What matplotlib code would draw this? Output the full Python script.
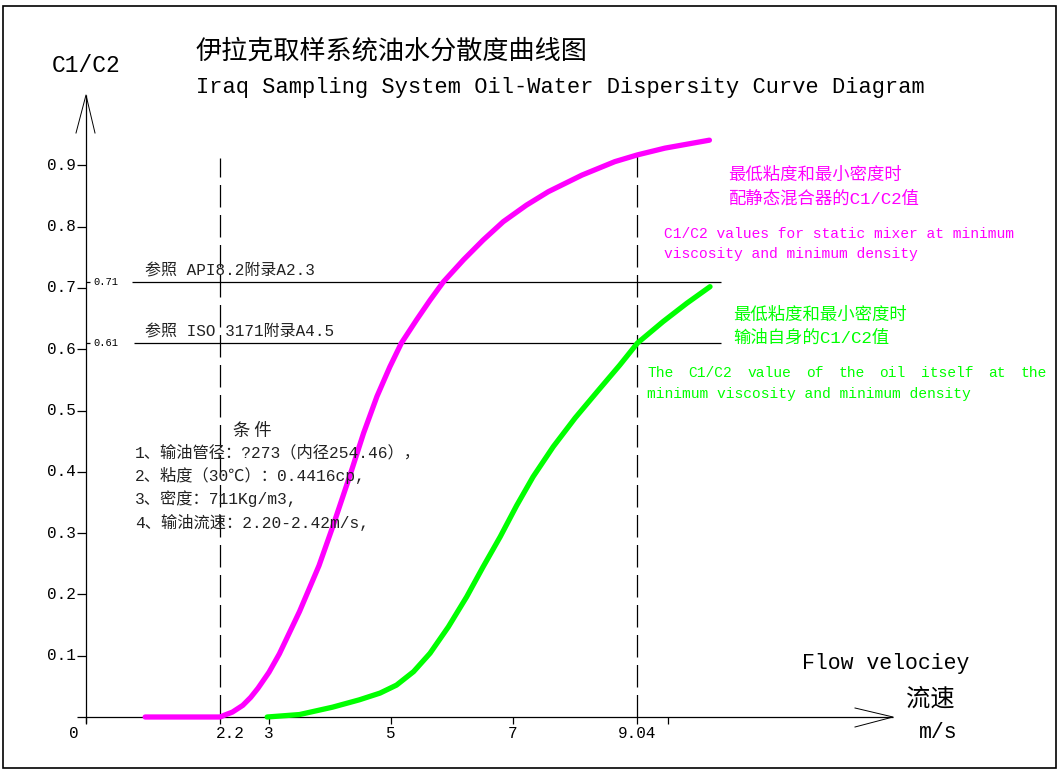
import matplotlib
matplotlib.use("Agg")
import matplotlib.pyplot as plt
from matplotlib.patches import Rectangle

# ---------------- data ----------------
mix_x = [0.97, 2.2, 2.27, 2.4, 2.57, 2.7, 2.82, 3.0, 3.17, 3.5, 3.82, 4.04, 4.33, 4.55, 4.77,
         4.98, 5.17, 5.42, 5.64, 5.86, 6.19, 6.51, 6.84, 7.22, 7.58, 8.13, 8.67, 9.04, 9.49,
         10.22]
mix_y = [0.0, 0.0, 0.003, 0.008, 0.019, 0.032, 0.047, 0.073, 0.103, 0.172, 0.247, 0.309, 0.395,
         0.463, 0.523, 0.571, 0.610, 0.648, 0.680, 0.710, 0.746, 0.778, 0.808, 0.835, 0.857,
         0.884, 0.906, 0.917, 0.928, 0.941]

oil_x = [2.97, 3.5, 4.04, 4.48, 4.82, 5.09, 5.37, 5.64, 5.94, 6.24, 6.51, 6.79, 7.06, 7.33,
         7.66, 8.02, 8.40, 8.75, 9.04, 9.46, 9.85, 10.23]
oil_y = [0.0, 0.004, 0.016, 0.028, 0.039, 0.052, 0.074, 0.104, 0.147, 0.196, 0.245, 0.294,
         0.345, 0.392, 0.441, 0.488, 0.533, 0.574, 0.610, 0.645, 0.675, 0.702]

y_ticks = [0.1, 0.2, 0.3, 0.4, 0.5, 0.6, 0.7, 0.8, 0.9]
y_tick_labels = ["0.1", "0.2", "0.3", "0.4", "0.5", "0.6", "0.7", "0.8", "0.9"]
x_ticks = [0, 2.2, 3, 5, 7, 9.04, 9.54]
x_tick_labels = ["0", "2.2", "3", "5", "7", "9.04", ""]
ref_levels = [0.71, 0.61]
ref_labels = ["0.71", "0.61"]
ref_texts = ["参照 API8.2附录A2.3", "参照 ISO 3171附录A4.5"]
v_lines = [2.2, 9.04]

title_cn = "伊拉克取样系统油水分散度曲线图"
title_en = "Iraq Sampling System Oil-Water Dispersity Curve Diagram"
cond_title = "条 件"
cond_lines = ["1、输油管径：?273（内径254.46），",
              "2、粘度（30℃）：0.4416cp,",
              "3、密度：711Kg/m3,",
              "4、输油流速：2.20-2.42m/s,"]
mix_note_cn = ["最低粘度和最小密度时", "配静态混合器的C1/C2值"]
mix_note_en = ["C1/C2 values for static mixer at minimum", "viscosity and minimum density"]
oil_note_cn = ["最低粘度和最小密度时", "输油自身的C1/C2值"]
oil_note_en1 = ["The", "C1/C2", "value", "of", "the", "oil", "itself", "at", "the"]
oil_note_en2 = "minimum viscosity and minimum density"

MAG = "#ff00ff"
GRN = "#00ff00"
MONO = ["Liberation Mono", "Noto Sans CJK SC"]
CJK = ["Noto Sans CJK SC", "Liberation Mono"]

W, H = 1063, 773
X0, SX = 86, 61.0     # pixel of x=0, pixels per unit
Y0, SY = 717, 613.0   # pixel of y=0, pixels per unit

fig = plt.figure(figsize=(W / 100, H / 100), dpi=100)
ax = fig.add_axes([0, 0, 1, 1])
ax.set_xlim(-X0 / SX, (W - X0) / SX)
ax.set_ylim((Y0 - H) / SY, Y0 / SY)
ax.axis("off")

def dx(p):  # pixel -> data x
    return (p - X0) / SX

def dy(p):  # pixel -> data y
    return (Y0 - p) / SY

# border
fig.patches.append(Rectangle((3 / W, 1 - 768 / H), (1056 - 3) / W, (768 - 6) / H,
                             transform=fig.transFigure, fill=False, lw=1.2, ec="black"))

k = dict(color="black", lw=0.9, solid_capstyle="butt")
# axes lines
ax.plot([0, 0], [dy(723), dy(95)], **k)
ax.plot([dx(77), dx(893)], [0, 0], **k)
# arrows
ax.plot([dx(76), 0, dx(95)], [dy(133), dy(95), dy(133)], color="black", lw=0.7)
ax.plot([dx(855), dx(893), dx(855)], [dy(708), 0, dy(727)], color="black", lw=0.7)

# y ticks
for t, lab in zip(y_ticks, y_tick_labels):
    ax.plot([dx(77), 0], [t, t], **k)
    ax.text(dx(76), t, lab, ha="right", va="center", fontsize=11.5, family=MONO)
for t, lab in zip(ref_levels, ref_labels):
    ax.plot([0, dx(90)], [t, t], **k)
    ax.text(dx(93), t, lab, ha="left", va="center", fontsize=7.5, family=MONO)

# x ticks
for t, lab in zip(x_ticks, x_tick_labels):
    ax.plot([t, t], [0, dy(724)], **k)
for t, lab in zip(x_ticks, x_tick_labels):
    if t == 0:
        ax.text(dx(74), dy(733), lab, ha="center", va="center", fontsize=11.5, family=MONO)
    elif t == 2.2:
        ax.text(dx(216), dy(733), lab, ha="left", va="center", fontsize=11.5, family=MONO)
    else:
        ax.text(t, dy(733), lab, ha="center", va="center", fontsize=11.5, family=MONO)

# reference horizontal lines
for lev, txt, x_start in zip(ref_levels, ref_texts, [132, 134]):
    ax.plot([dx(x_start), dx(721)], [lev, lev], **k)
    ax.text(dx(145), lev + 0.018, txt, ha="left", va="center", fontsize=11.5,
            family=MONO, color="#222222")

# dashed verticals
for v, top in zip(v_lines, [158, 153]):
    ax.plot([v, v], [0, dy(top)], color="black", lw=0.9, linestyle=(0, (18, 6)))

# curves
ax.plot(mix_x, mix_y, color=MAG, lw=3.8, solid_capstyle="round", solid_joinstyle="round")
ax.plot(oil_x, oil_y, color=GRN, lw=3.8, solid_capstyle="round", solid_joinstyle="round")

# titles
fig.text(196 / W, 1 - 51 / H, title_cn, ha="left", va="center", fontsize=18.8, family=CJK)
fig.text(196 / W, 1 - 88 / H, title_en, ha="left", va="center", fontsize=15.8, family=MONO)
fig.text(52 / W, 1 - 65 / H, "C1/C2", ha="left", va="center", fontsize=16.5, family=MONO)

# conditions
fig.text(233 / W, 1 - 431 / H, cond_title, ha="left", va="center", fontsize=12.5, family=CJK,
         color="#222222")
for i, line in enumerate(cond_lines):
    fig.text(135 / W, 1 - (453 + 23 * i) / H, line, ha="left", va="center", fontsize=11.7,
             family=MONO, color="#222222")

# magenta notes
for i, line in enumerate(mix_note_cn):
    fig.text(728 / W, 1 - (175 + 23 * i) / H, line, ha="left", va="center", fontsize=12.5,
             family=MONO, color=MAG)
for i, line in enumerate(mix_note_en):
    fig.text(664 / W, 1 - (234 + 20 * i) / H, line, ha="left", va="center", fontsize=10.5,
             family=MONO, color=MAG)

# green notes
for i, line in enumerate(oil_note_cn):
    fig.text(733 / W, 1 - (315 + 23 * i) / H, line, ha="left", va="center", fontsize=12.5,
             family=MONO, color=GRN)
# justified first English line
fig.canvas.draw()
rend = fig.canvas.get_renderer()
tmp = [fig.text(0, 0, w, fontsize=10.5, family=MONO) for w in oil_note_en1]
widths = [t.get_window_extent(rend).width for t in tmp]
for t in tmp:
    t.remove()
left, right = 647, 1047
gap = (right - left - sum(widths)) / (len(oil_note_en1) - 1)
xcur = left
for w, wd in zip(oil_note_en1, widths):
    fig.text(xcur / W, 1 - 373 / H, w, ha="left", va="center", fontsize=10.5, family=MONO,
             color=GRN)
    xcur += wd + gap
fig.text(647 / W, 1 - 394 / H, oil_note_en2, ha="left", va="center", fontsize=10.5,
         family=MONO, color=GRN)

# x axis label
fig.text(802 / W, 1 - 664 / H, "Flow velociey", ha="left", va="center", fontsize=15.5,
         family=MONO)
fig.text(930 / W, 1 - 699 / H, "流速", ha="center", va="center", fontsize=17.5, family=CJK)
fig.text(938 / W, 1 - 732 / H, "m/s", ha="center", va="center", fontsize=15.5, family=MONO)

fig.savefig("out.png", dpi=100)
